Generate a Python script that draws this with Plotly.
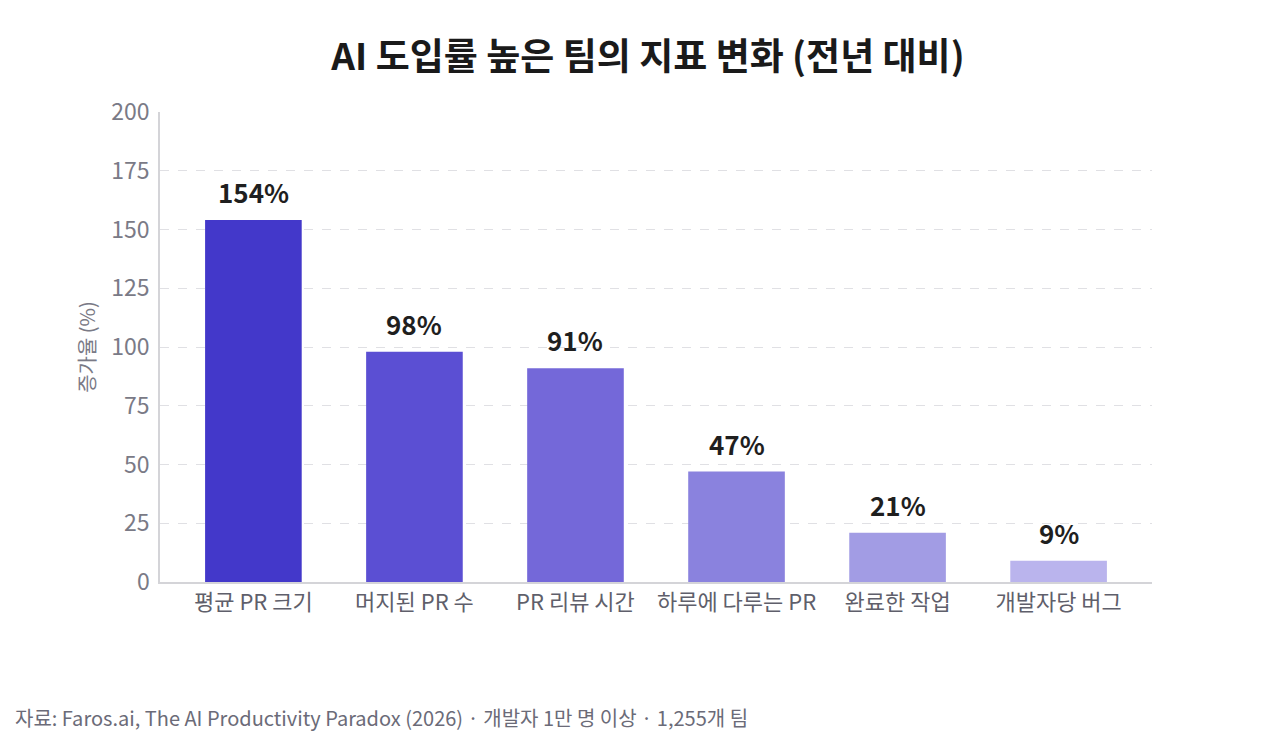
import plotly.graph_objects as go

# data
categories = ['평균 PR 크기', '머지된 PR 수', 'PR 리뷰 시간', '하루에 다루는 PR', '완료한 작업', '개발자당 버그']
increase_pct = [154, 98, 91, 47, 21, 9]
bar_colors = ['#4338ca', '#5b4fd3', '#7468d9', '#8a82de', '#a29ce4', '#bab4ed']
y_ticks = [0, 25, 50, 75, 100, 125, 150, 175, 200]

FONT = 'Noto Sans CJK KR'

fig = go.Figure()
fig.add_trace(go.Bar(
    x=list(range(len(categories))),
    y=increase_pct,
    width=0.6,
    marker=dict(color=bar_colors, line_width=0),
    hoverinfo='skip',
))

# value labels above bars
for i, v in enumerate(increase_pct):
    fig.add_annotation(
        x=i, y=v, text='<b>{0}%</b>'.format(v),
        showarrow=False, xanchor='center', yanchor='bottom', yshift=8,
        font=dict(family=FONT, size=26, color='#1f1f1f'),
    )

fig.update_layout(
    width=1280, height=747,
    margin=dict(l=152, r=136, t=104, b=173),
    plot_bgcolor='white',
    paper_bgcolor='white',
    showlegend=False,
    font=dict(family=FONT, color='#6b6b78'),
    title=dict(
        text='<b>AI 도입률 높은 팀의 지표 변화 (전년 대비)</b>',
        x=0.5, xanchor='center', y=0.935, yanchor='middle',
        font=dict(family=FONT, size=37, color='#1a1a1a'),
    ),
    xaxis=dict(
        range=[-0.58, 5.58],
        tickmode='array',
        tickvals=list(range(len(categories))),
        ticktext=categories,
        tickfont=dict(size=22, color='#5f5f6b'),
        showgrid=False,
        showline=True, linecolor='#d4d4d8', linewidth=1.5,
        ticks='',
        zeroline=False,
    ),
    yaxis=dict(
        range=[0, 200],
        tickmode='array',
        tickvals=y_ticks,
        tickfont=dict(size=23, color='#7a7a86'),
        showgrid=True, gridcolor='#e0e0e4', griddash='dash', gridwidth=1,
        showline=True, linecolor='#d4d4d8', linewidth=1.5,
        zeroline=False,
        ticks='', ticklabelstandoff=4,
        title=dict(text='증가율 (%)', font=dict(size=20, color='#7a7a86'), standoff=10),
    ),
)

fig.add_annotation(
    text='자료: Faros.ai, The AI Productivity Paradox (2026) · 개발자 1만 명 이상 · 1,255개 팀',
    xref='paper', yref='paper', x=-147 / 992, y=-135 / 470,
    xanchor='left', yanchor='middle', showarrow=False,
    font=dict(family=FONT, size=20, color='#6b6b78'),
)

fig.write_html('out.html')
